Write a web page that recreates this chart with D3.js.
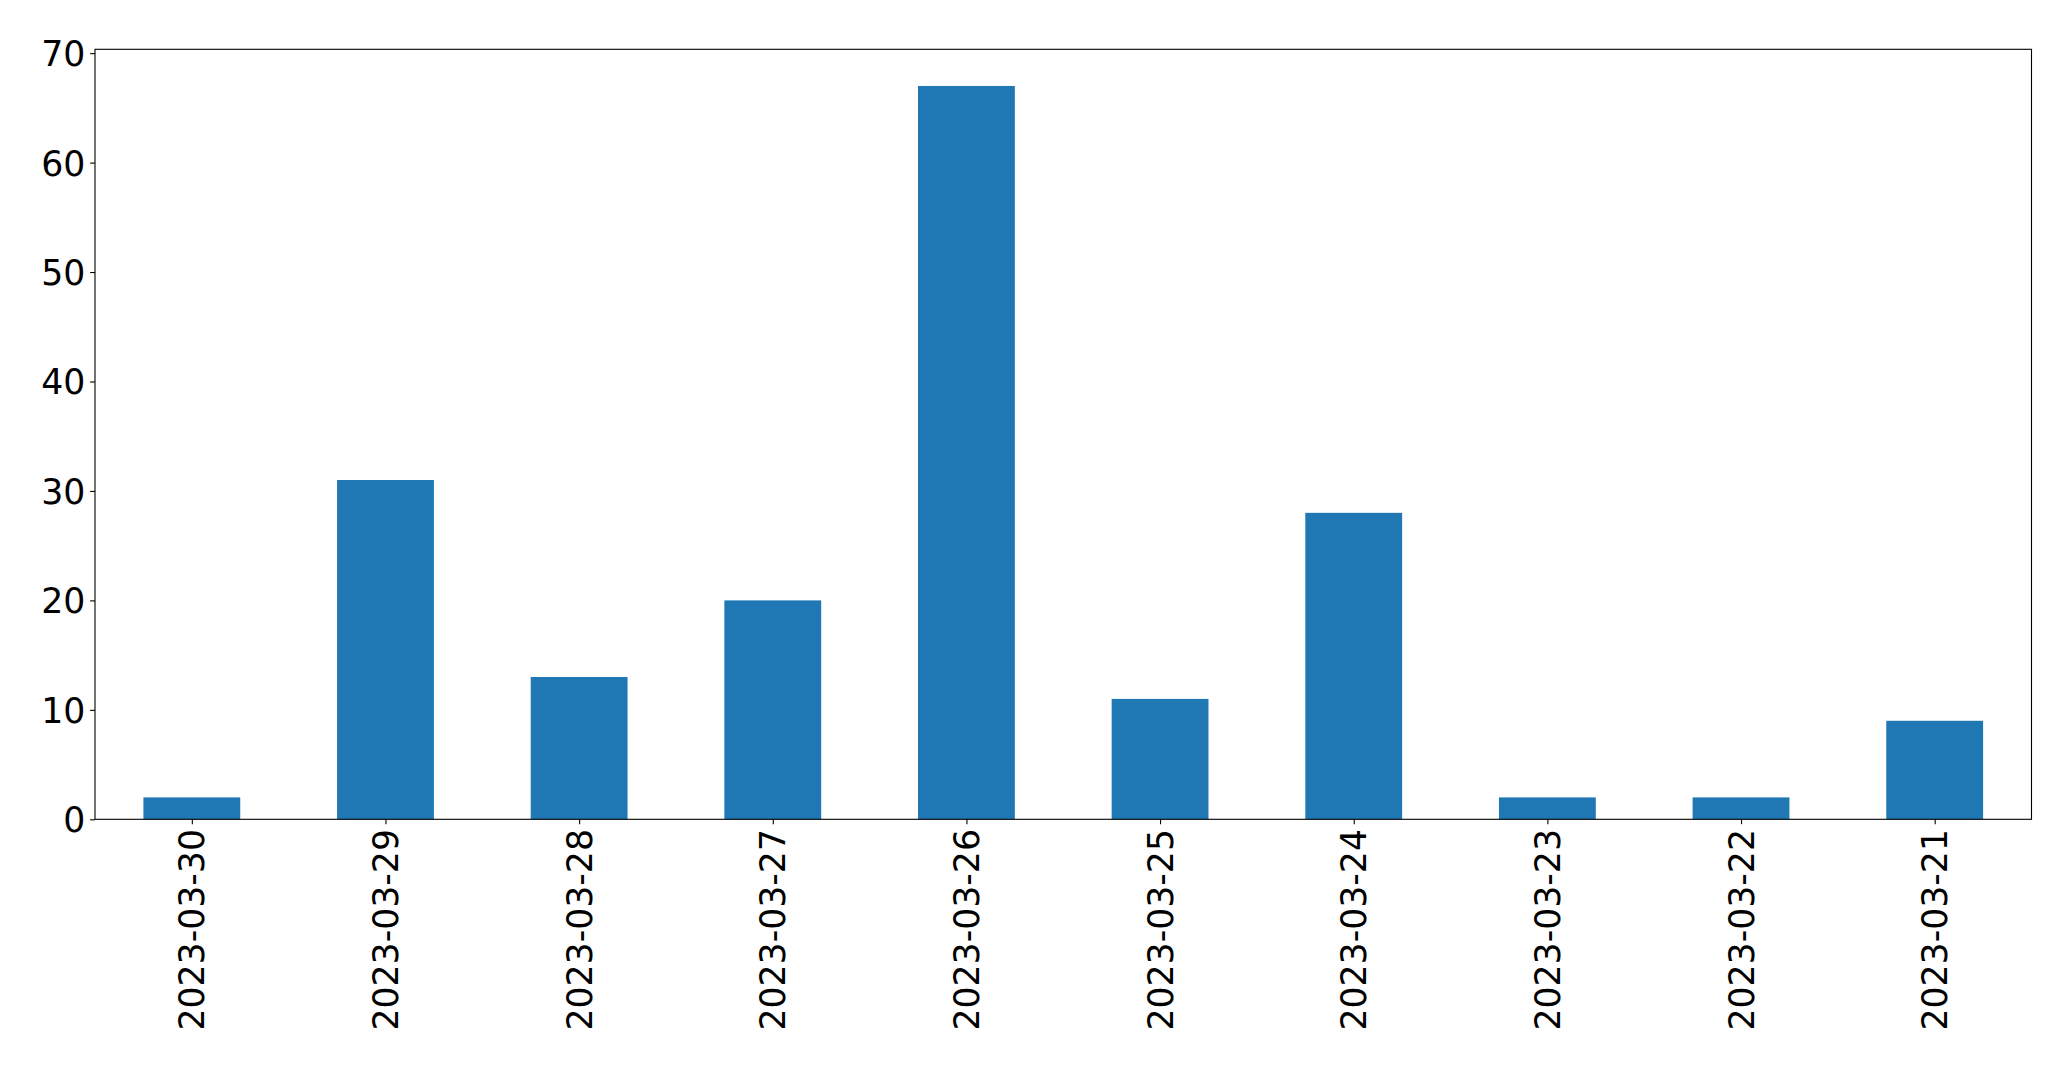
<!DOCTYPE html>
<html>
<head>
<meta charset="utf-8">
<script src="https://cdn.jsdelivr.net/npm/d3@7"></script>
<style>
html,body{margin:0;padding:0;background:#fff;}
svg{display:block;}
text{font-family:"DejaVu Sans",sans-serif;fill:#000;}
</style>
</head>
<body>
<script>
const categories = ["2023-03-30","2023-03-29","2023-03-28","2023-03-27","2023-03-26","2023-03-25","2023-03-24","2023-03-23","2023-03-22","2023-03-21"];
const values = [2,31,13,20,67,11,28,2,2,9];
const yTicks = [0,10,20,30,40,50,60,70];

(function(){
const W = 2071, H = 1071;
const mLeft = 95, mRight = 2031.5, mTop = 49.3, mBottom = 819.3;
const fs = 34.7, tickLen = 4.86, pad = 4.86;

const svg = d3.select("body").append("svg").attr("width", W).attr("height", H);

const x = d3.scaleLinear().domain([-0.5, categories.length - 0.5]).range([mLeft, mRight]);
const yMax = d3.max(values) * 1.05;
const y = d3.scaleLinear().domain([0, yMax]).range([mBottom, mTop]);

const barW = 0.5;
svg.append("g").selectAll("rect").data(values).join("rect")
  .attr("x", (d,i) => x(i - barW/2))
  .attr("width", (d,i) => x(i + barW/2) - x(i - barW/2))
  .attr("y", d => y(d))
  .attr("height", d => y(0) - y(d))
  .attr("fill", "#1f77b4");

// y axis
const yAxis = d3.axisLeft(y).tickValues(yTicks).tickSize(tickLen).tickPadding(pad).tickFormat(d3.format("d"));
const gy = svg.append("g").attr("transform", `translate(${mLeft},0)`).call(yAxis);
gy.select(".domain").remove();
gy.selectAll(".tick line").attr("stroke", "#000").attr("stroke-width", 1.1);
gy.selectAll(".tick text").attr("font-size", fs).attr("dy", "0.36em").style("font-family", "DejaVu Sans");

// x axis
const xBand = d3.scalePoint().domain(categories).range([x(0), x(categories.length - 1)]);
const xAxis = d3.axisBottom(xBand).tickSize(tickLen).tickPadding(pad);
const gx = svg.append("g").attr("transform", `translate(0,${mBottom})`).call(xAxis);
gx.select(".domain").remove();
gx.selectAll(".tick line").attr("stroke", "#000").attr("stroke-width", 1.1);
gx.selectAll(".tick text")
  .attr("font-size", fs)
  .style("font-family", "DejaVu Sans")
  .attr("text-anchor", "end")
  .attr("dy", null)
  .attr("dominant-baseline", "central")
  .attr("x", 0)
  .attr("y", 0)
  .attr("transform", `translate(0,${tickLen + pad}) rotate(-90)`);

// frame
svg.append("rect")
  .attr("x", mLeft).attr("y", mTop)
  .attr("width", mRight - mLeft).attr("height", mBottom - mTop)
  .attr("fill", "none").attr("stroke", "#000").attr("stroke-width", 1.1);
})();
</script>
</body>
</html>
